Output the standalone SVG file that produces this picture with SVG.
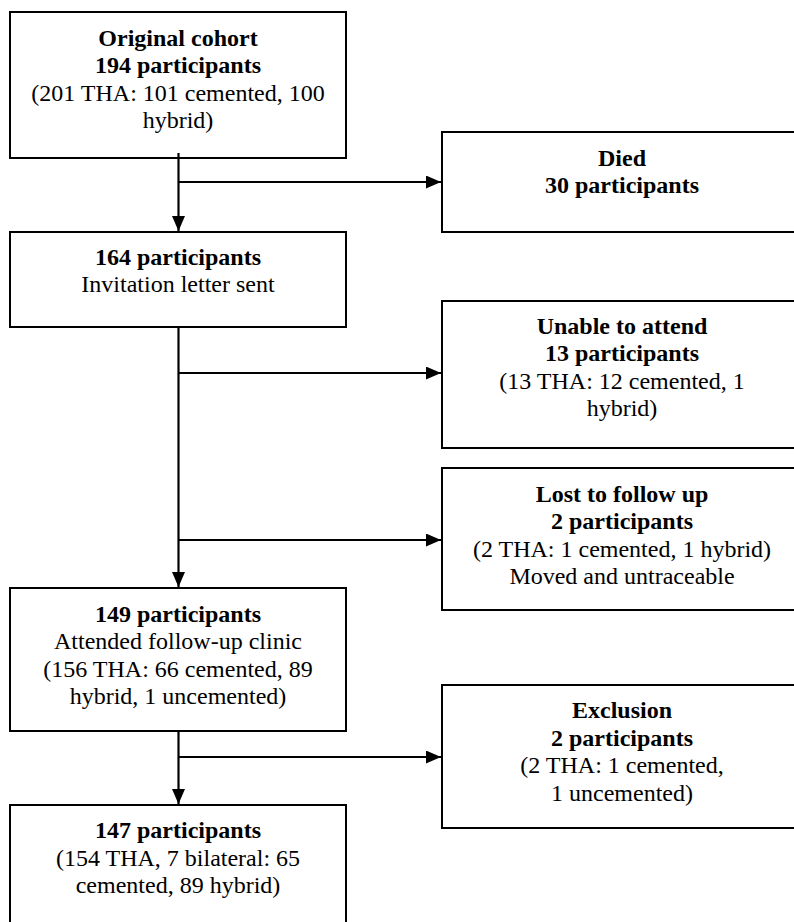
<svg xmlns="http://www.w3.org/2000/svg" width="794" height="922" viewBox="0 0 794 922">
<style>
.box{fill:#fff;stroke:#000;stroke-width:2}
.t{font-family:"Liberation Serif","Times New Roman",serif;font-size:24px;fill:#000;text-anchor:middle}
.b{font-weight:bold}
.c{fill:none;stroke:#000;stroke-width:2.2}
</style>
<defs>
<marker id="ah" markerUnits="userSpaceOnUse" markerWidth="15" markerHeight="13" refX="15" refY="6.5" orient="auto">
<path d="M0,0 L15,6.5 L0,13 z" fill="#000"/>
</marker>
</defs>
<rect width="794" height="922" fill="#fff"/>
<g id="original">
<rect class="box" x="10" y="12" width="336" height="146"/>
<text class="t b" x="178" y="45.5">Original cohort</text>
<text class="t b" x="178" y="73">194 participants</text>
<text class="t" x="178" y="100.7">(201 THA: 101 cemented, 100</text>
<text class="t" x="178" y="128.3">hybrid)</text>
</g>
<g id="died">
<rect class="box" x="442" y="132" width="362" height="100"/>
<text class="t b" x="622" y="165.5">Died</text>
<text class="t b" x="622" y="193">30 participants</text>
</g>
<g id="invited">
<rect class="box" x="10" y="232" width="336" height="95"/>
<text class="t b" x="178" y="264.5">164 participants</text>
<text class="t" x="178" y="292">Invitation letter sent</text>
</g>
<g id="unable">
<rect class="box" x="442" y="301" width="362" height="147"/>
<text class="t b" x="622" y="333.5">Unable to attend</text>
<text class="t b" x="622" y="361">13 participants</text>
<text class="t" x="622" y="388.7">(13 THA: 12 cemented, 1</text>
<text class="t" x="622" y="416.3">hybrid)</text>
</g>
<g id="lost">
<rect class="box" x="442" y="468" width="362" height="142"/>
<text class="t b" x="622" y="501.5">Lost to follow up</text>
<text class="t b" x="622" y="529">2 participants</text>
<text class="t" x="622" y="556.7">(2 THA: 1 cemented, 1 hybrid)</text>
<text class="t" x="622" y="584.3">Moved and untraceable</text>
</g>
<g id="attended">
<rect class="box" x="10" y="588" width="336" height="143"/>
<text class="t b" x="178" y="621.5">149 participants</text>
<text class="t" x="178" y="649">Attended follow-up clinic</text>
<text class="t" x="178" y="676.7">(156 THA: 66 cemented, 89</text>
<text class="t" x="178" y="704.3">hybrid, 1 uncemented)</text>
</g>
<g id="exclusion">
<rect class="box" x="442" y="685" width="362" height="143"/>
<text class="t b" x="622" y="718">Exclusion</text>
<text class="t b" x="622" y="745.5">2 participants</text>
<text class="t" x="622" y="773.2">(2 THA: 1 cemented,</text>
<text class="t" x="622" y="800.8">1 uncemented)</text>
</g>
<g id="final">
<rect class="box" x="10" y="805" width="336" height="130"/>
<text class="t b" x="178" y="838">147 participants</text>
<text class="t" x="178" y="865.5">(154 THA, 7 bilateral: 65</text>
<text class="t" x="178" y="893.2">cemented, 89 hybrid)</text>
</g>
<g id="connectors">
<line class="c" x1="178.5" y1="153" x2="178.5" y2="231" marker-end="url(#ah)"/>
<line class="c" x1="178.5" y1="182" x2="441" y2="182" marker-end="url(#ah)"/>
<line class="c" x1="178.5" y1="328" x2="178.5" y2="587" marker-end="url(#ah)"/>
<line class="c" x1="178.5" y1="373" x2="441" y2="373" marker-end="url(#ah)"/>
<line class="c" x1="178.5" y1="540" x2="441" y2="540" marker-end="url(#ah)"/>
<line class="c" x1="178.5" y1="731" x2="178.5" y2="804" marker-end="url(#ah)"/>
<line class="c" x1="178.5" y1="757" x2="441" y2="757" marker-end="url(#ah)"/>
</g>
</svg>
